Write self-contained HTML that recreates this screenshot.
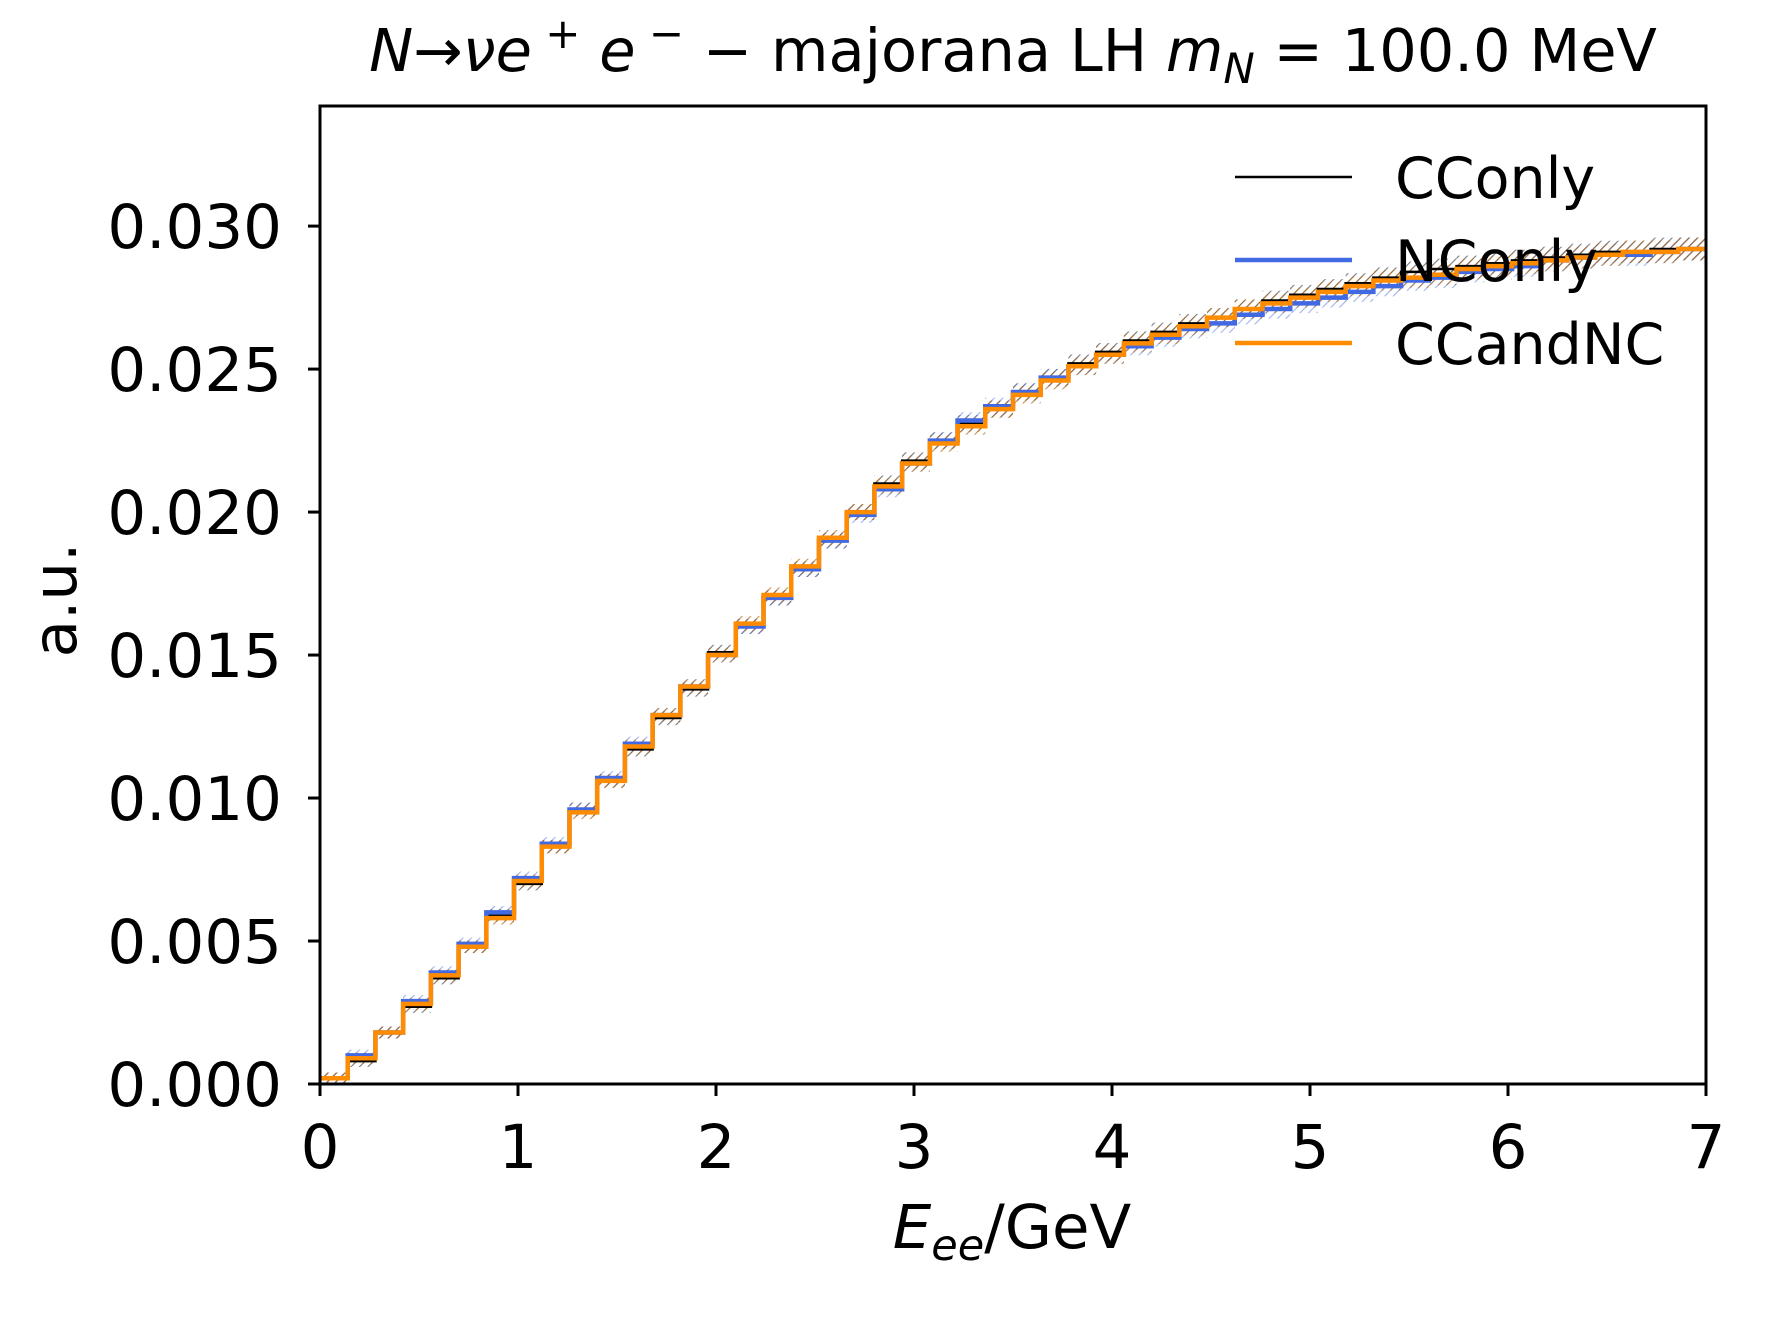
<!DOCTYPE html>
<html><head><meta charset="utf-8"><style>
html,body{margin:0;padding:0;background:#fff;}
svg{display:block;font-family:"DejaVu Sans","Liberation Sans",sans-serif;}
</style></head><body>
<svg id="chart" width="1776" height="1322" viewBox="0 0 1776 1322" xmlns="http://www.w3.org/2000/svg">
<defs>
<pattern id="hatchK" patternUnits="userSpaceOnUse" width="6" height="6" patternTransform="rotate(45)"><line x1="0" y1="0" x2="0" y2="6" stroke="#222" stroke-width="2.2" opacity="0.6"/></pattern>
<pattern id="hatchB" patternUnits="userSpaceOnUse" width="6" height="6" patternTransform="rotate(45)"><line x1="0" y1="0" x2="0" y2="6" stroke="#4169e1" stroke-width="2.2" opacity="0.5"/></pattern>
<pattern id="hatchO" patternUnits="userSpaceOnUse" width="6" height="6" patternTransform="rotate(45)"><line x1="0" y1="0" x2="0" y2="6" stroke="#b0600a" stroke-width="2.2" opacity="0.7"/></pattern>
</defs>
<g id="plot"></g>
</svg>
<script>
const xEdgesMax = 7;
const nBins = 50;
const ccandnc = [0.0002,0.0009,0.0018,0.0028,0.0038,0.0048,0.0058,0.0071,0.0083,0.0095,0.0106,0.0118,0.0129,0.0139,0.0150,0.0161,0.0171,0.0181,0.0191,0.0200,0.0209,0.0217,0.0224,0.0230,0.0236,0.0241,0.0246,0.0251,0.0255,0.0259,0.0262,0.0265,0.0268,0.0271,0.0273,0.0275,0.0277,0.0279,0.0281,0.0282,0.0283,0.0285,0.0286,0.0287,0.0288,0.0289,0.0290,0.0291,0.0291,0.0292];
const cconly = [0.0002,0.0008,0.0018,0.0027,0.0037,0.0048,0.0059,0.0070,0.0083,0.0096,0.0106,0.0117,0.0128,0.0138,0.0151,0.0160,0.0170,0.0180,0.0190,0.0200,0.0210,0.0218,0.0225,0.0231,0.0236,0.0242,0.0247,0.0252,0.0256,0.0260,0.0263,0.0266,0.0268,0.0271,0.0274,0.0276,0.0278,0.0280,0.0282,0.0284,0.0285,0.0286,0.0287,0.0288,0.0289,0.0290,0.0291,0.0291,0.0292,0.0292];
const nconly = [0.0002,0.0010,0.0018,0.0029,0.0039,0.0049,0.0060,0.0072,0.0084,0.0096,0.0107,0.0119,0.0129,0.0139,0.0150,0.0160,0.0170,0.0180,0.0190,0.0199,0.0208,0.0217,0.0225,0.0232,0.0237,0.0242,0.0247,0.0251,0.0255,0.0258,0.0261,0.0264,0.0266,0.0269,0.0271,0.0273,0.0275,0.0277,0.0279,0.0281,0.0282,0.0284,0.0285,0.0286,0.0288,0.0289,0.0290,0.0290,0.0291,0.0292];
const errBandLow = 0.0002;
const errBandHigh = 0.0004;
const xTicks = [0,1,2,3,4,5,6,7];
const yTicks = [0,0.005,0.010,0.015,0.020,0.025,0.030];
const yTickLabels = ["0.000","0.005","0.010","0.015","0.020","0.025","0.030"];
const seriesNames = ["CConly","NConly","CCandNC"];

const L=320,R=1706,T=106,B=1084,YMAX=0.0342;
const xs=v=>L+(R-L)*v/xEdgesMax;
const ys=v=>B-(B-T)*v/YMAX;
const NS="http://www.w3.org/2000/svg";
const g=document.getElementById('plot');
function mk(tag,attrs,parent){const e=document.createElementNS(NS,tag);for(const k in attrs)e.setAttribute(k,attrs[k]);(parent||g).appendChild(e);return e;}
const bw=xEdgesMax/nBins;

function band(vals,fill,name){
  const grp=mk('g',{});
  
  
  vals.forEach((v,i)=>{
    const e=errBandLow+(errBandHigh-errBandLow)*i/(vals.length-1);
    const r=mk('rect',{x:xs(i*bw),y:ys(v+e),width:xs((i+1)*bw)-xs(i*bw),height:ys(v-e)-ys(v+e),fill:fill},grp);
    
    
  });
}
function step(vals,color,w,name){
  let d='';
  vals.forEach((v,i)=>{d+=(i===0?'M':'L')+xs(i*bw)+','+ys(v)+' L'+xs((i+1)*bw)+','+ys(v)+' ';});
  const p=mk('path',{d:d,fill:'none',stroke:color,'stroke-width':w,'stroke-linejoin':'miter'});
  
  
}
band(cconly,'url(#hatchK)','cconly-error-band');
band(nconly,'url(#hatchB)','nconly-error-band');
band(ccandnc,'url(#hatchO)','ccandnc-error-band');
step(cconly,'#000',2.5,'cconly-line');
step(nconly,'#4169e1',4.5,'nconly-line');
step(ccandnc,'#ff8c00',4.5,'ccandnc-line');

const fr=mk('rect',{x:L,y:T,width:R-L,height:B-T,fill:'none',stroke:'#000','stroke-width':3});



xTicks.forEach(t=>{
  const l=mk('line',{x1:xs(t),x2:xs(t),y1:B,y2:B+12,stroke:'#000','stroke-width':3});
  
  
  const tx=mk('text',{x:xs(t),y:1168,'font-size':61,'text-anchor':'middle'});
  tx.textContent=t;
  
  
});
yTicks.forEach((t,i)=>{
  const l=mk('line',{x1:L-12,x2:L,y1:ys(t),y2:ys(t),stroke:'#000','stroke-width':3});
  
  
  const tx=mk('text',{x:L-38,y:ys(t)+22,'font-size':61,'text-anchor':'end'});
  tx.textContent=yTickLabels[i];
  
  
});

const legColors=['#000','#4169e1','#ff8c00'];
const legW=[2.5,4.5,4.5];
seriesNames.forEach((n,i)=>{
  const y=177+i*83;
  const l=mk('line',{x1:1235,x2:1352,y1:y,y2:y,stroke:legColors[i],'stroke-width':legW[i]});
  
  
  const tx=mk('text',{x:1395,y:y+21,'font-size':57});
  tx.textContent=n;
  
  
});
</script>
<svg style="position:absolute;left:0;top:0" width="1776" height="1322">
<text x="1013" y="71" font-size="59" text-anchor="middle" font-family="DejaVu Sans, Liberation Sans, sans-serif"><tspan font-style="italic">N</tspan>→<tspan font-style="italic">νe</tspan><tspan font-size="42" dy="-23"> +</tspan><tspan font-style="italic" dy="23"> e</tspan><tspan font-size="42" dy="-23"> −</tspan><tspan dy="23">  − majorana LH </tspan><tspan font-style="italic">m</tspan><tspan font-style="italic" font-size="42" dy="12">N</tspan><tspan dy="-12"> = 100.0 MeV</tspan></text>
<text x="1012" y="1248" font-size="61" text-anchor="middle" font-family="DejaVu Sans, Liberation Sans, sans-serif"><tspan font-style="italic">E</tspan><tspan font-style="italic" font-size="43" dy="12">ee</tspan><tspan dy="-12">/GeV</tspan></text>
<text x="0" y="0" font-size="61" text-anchor="middle" transform="translate(76,600) rotate(-90)" font-family="DejaVu Sans, Liberation Sans, sans-serif">a.u.</text>
</svg>
</body></html>
